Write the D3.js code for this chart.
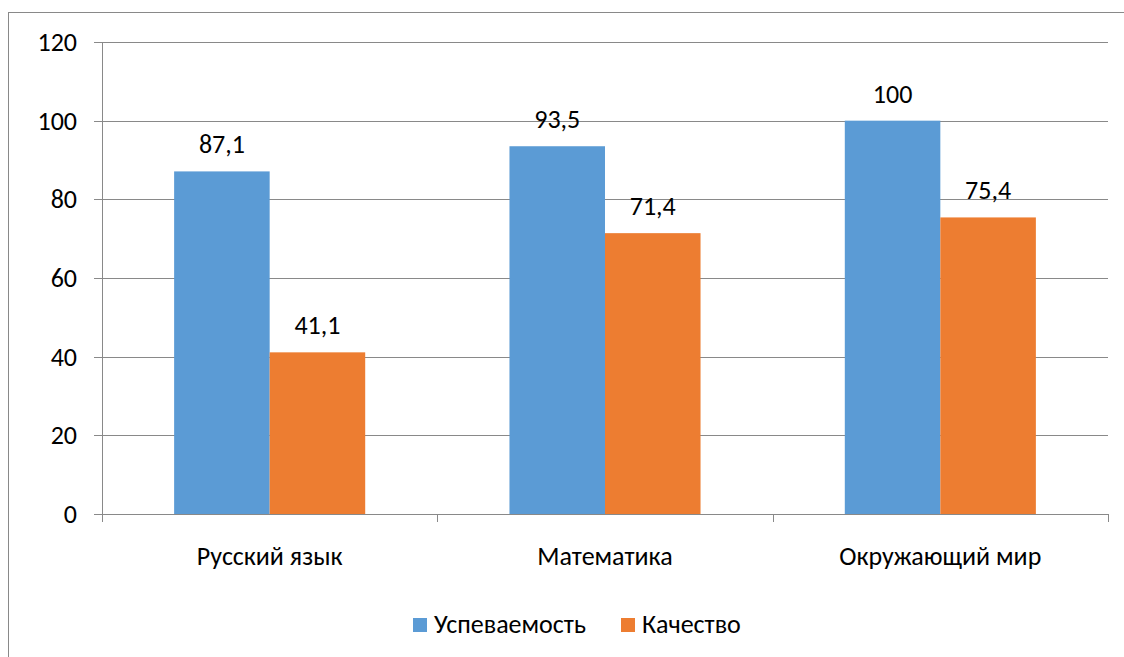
<!DOCTYPE html>
<html>
<head>
<meta charset="utf-8">
<script src="https://cdn.jsdelivr.net/npm/d3@7"></script>
<style>
  body { margin: 0; background: #fff; }
  text { font-family: Carlito, "Open Sans", "Noto Sans", sans-serif; fill: #000; }
</style>
</head>
<body>
<svg id="chart" width="1124" height="657"></svg>
<script>
const categories = ['Русский язык', 'Математика', 'Окружающий мир'];
const seriesNames = ['Успеваемость', 'Качество'];
const uspevaemost = [87.1, 93.5, 100];
const kachestvo = [41.1, 71.4, 75.4];
const yTicks = [0, 20, 40, 60, 80, 100, 120];
const colors = ['#5B9BD5', '#ED7D31'];

const svg = d3.select('#chart');
const margin = { top: 42, right: 16, bottom: 143, left: 102 };
const W = 1124, H = 657;
const fontSize = '26px';

// outer frame of the chart area
svg.append('rect')
  .attr('x', 8.5).attr('y', 12.5)
  .attr('width', W + 10).attr('height', H + 10)
  .attr('fill', 'none').attr('stroke', '#898989').attr('stroke-width', 1);

const x0 = d3.scaleBand()
  .domain(categories)
  .range([margin.left, W - margin.right])
  .paddingInner(0).paddingOuter(0);

const x1 = d3.scaleBand()
  .domain(seriesNames)
  .range([0, x0.bandwidth()])
  .paddingInner(0).paddingOuter(0.755);

const y = d3.scaleLinear()
  .domain([0, 120])
  .range([H - margin.bottom, margin.top]);

// grid lines
svg.append('g')
  .selectAll('line')
  .data(yTicks)
  .join('line')
  .attr('x1', margin.left - 8)
  .attr('x2', W - margin.right)
  .attr('y1', d => Math.round(y(d)) + 0.5)
  .attr('y2', d => Math.round(y(d)) + 0.5)
  .attr('stroke', '#898989')
  .attr('stroke-width', 1);

// y labels
svg.append('g')
  .selectAll('text')
  .data(yTicks)
  .join('text')
  .attr('x', margin.left - 25)
  .attr('y', d => y(d))
  .attr('dy', '0.35em')
  .attr('text-anchor', 'end')
  .style('font-size', fontSize)
  .text(d => d);

// y axis line
svg.append('line')
  .attr('x1', margin.left + 0.5).attr('x2', margin.left + 0.5)
  .attr('y1', y(120)).attr('y2', y(0))
  .attr('stroke', '#898989');

// category tick marks
const catEdges = categories.map(c => x0(c)).concat([x0(categories[2]) + x0.bandwidth()]);
svg.append('g')
  .selectAll('line')
  .data(catEdges)
  .join('line')
  .attr('x1', d => Math.round(d) + 0.5)
  .attr('x2', d => Math.round(d) + 0.5)
  .attr('y1', y(0))
  .attr('y2', y(0) + 8)
  .attr('stroke', '#898989');

// bars
const rows = categories.map((c, i) => ({ cat: c, vals: [uspevaemost[i], kachestvo[i]] }));
const groups = svg.append('g')
  .selectAll('g')
  .data(rows)
  .join('g')
  .attr('transform', d => `translate(${x0(d.cat)},0)`);

groups.selectAll('rect')
  .data(d => d.vals.map((v, j) => ({ name: seriesNames[j], v, j })))
  .join('rect')
  .attr('x', d => x1(d.name))
  .attr('width', x1.bandwidth())
  .attr('y', d => y(d.v))
  .attr('height', d => y(0) - y(d.v))
  .attr('fill', d => colors[d.j]);

groups.selectAll('text')
  .data(d => d.vals.map((v, j) => ({ name: seriesNames[j], v, j })))
  .join('text')
  .attr('x', d => x1(d.name) + x1.bandwidth() / 2)
  .attr('y', d => y(d.v) - 18)
  .attr('text-anchor', 'middle')
  .style('font-size', fontSize)
  .text(d => String(d.v).replace('.', ','));

// category labels
svg.append('g')
  .selectAll('text')
  .data(categories)
  .join('text')
  .attr('x', d => x0(d) + x0.bandwidth() / 2)
  .attr('y', y(0) + 51)
  .attr('text-anchor', 'middle')
  .style('font-size', fontSize)
  .text(d => d);

// legend
const legendX = [413, 621];
const legend = svg.append('g')
  .selectAll('g')
  .data(seriesNames)
  .join('g')
  .attr('transform', (d, i) => `translate(${legendX[i]},618)`);
legend.append('rect')
  .attr('width', 14).attr('height', 14)
  .attr('fill', (d, i) => colors[i]);
legend.append('text')
  .attr('x', 21).attr('y', 15)
  .style('font-size', fontSize)
  .text(d => d);
</script>
</body>
</html>
